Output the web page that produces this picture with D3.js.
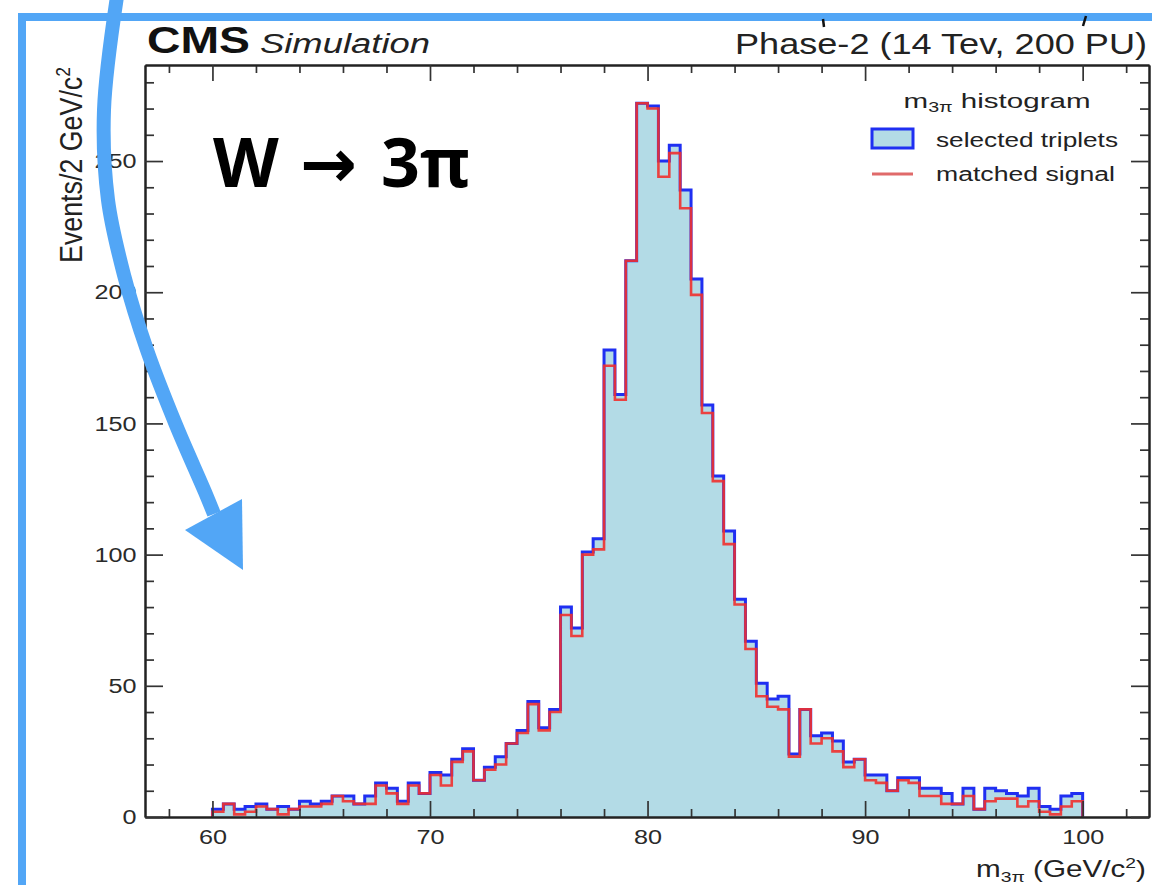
<!DOCTYPE html>
<html>
<head>
<meta charset="utf-8">
<script src="https://cdn.jsdelivr.net/npm/d3@7"></script>
<style>
  body { margin: 0; background: #fff; }
  svg { display: block; }
</style>
</head>
<body>
<div id="chart"></div>
<script>
`use strict`;

// m(3pi) histogram, 0.5 GeV bins from 60 to 100
const binLow = 60;
const binWidth = 0.5;

const selected = [
  3, 5, 3, 4, 5, 3, 4, 3, 6, 5,
  6, 8, 8, 5, 8, 13, 11, 6, 13, 9,
  17, 16, 22, 26, 14, 19, 23, 28, 33, 44,
  34, 41, 80, 72, 101, 106, 178, 161, 212, 272,
  271, 250, 256, 239, 205, 157, 130, 109, 83, 67,
  51, 45, 46, 24, 41, 31, 32, 29, 21, 22,
  16, 16, 10, 15, 15, 11, 11, 9, 5, 11,
  3, 11, 10, 9, 8, 11, 4, 3, 8, 9
];

const matched = [
  2, 5, 1, 2, 4, 3, 1, 3, 4, 4,
  5, 8, 6, 5, 5, 12, 9, 5, 12, 9,
  16, 12, 21, 25, 14, 18, 20, 28, 32, 43,
  33, 40, 77, 69, 100, 102, 172, 159, 212, 272,
  270, 244, 253, 232, 199, 154, 128, 104, 81, 64,
  46, 42, 41, 23, 41, 28, 30, 25, 19, 22,
  14, 13, 10, 14, 13, 8, 8, 5, 5, 8,
  3, 6, 7, 7, 4, 6, 2, 1, 4, 6
];

const xMajor = [60, 70, 80, 90, 100];
const xMinor = [58, 62, 64, 66, 68, 72, 74, 76, 78, 82, 84, 86, 88, 92, 94, 96, 98, 102];
const yMajor = [0, 50, 100, 150, 200, 250];
const yMinor = [10, 20, 30, 40, 60, 70, 80, 90, 110, 120, 130, 140, 160, 170, 180, 190, 210, 220, 230, 240, 260, 270, 280];

// slide annotation (the curved arrow pasted over the plot)
const arrowPts = [[118, -10], [104, 110], [108, 200], [124, 275], [147, 350], [176, 425], [205, 492], [214, 514]];
const arrowHead = [[185, 530], [242, 499], [243, 570]];

(function () {

  const W = 1152, H = 885;
  const SX = 1.2; // the slide image is stretched sideways
  const font = `'Liberation Sans', Arial, Helvetica, sans-serif`;
  const slideBlue = `#52a6f6`;

  const svg = d3.select(`#chart`).append(`svg`)
    .attr(`width`, W)
    .attr(`height`, H)
    .style(`background`, `#fff`);

  const x = d3.scaleLinear().domain([56.9, 103.05]).range([145, 1149]);
  const y = d3.scaleLinear().domain([0, 286.6]).range([817, 65]);

  let steps = counts => {
    let pts = counts.map((v, i) => [binLow + i * binWidth, v]);
    pts.push([binLow + counts.length * binWidth, counts[counts.length - 1]]);
    return pts;
  };

  let outline = counts => {
    let pts = steps(counts);
    return [[binLow, 0]].concat(pts, [[pts[pts.length - 1][0], 0]]);
  };

  // fill of the selected triplets
  svg.append(`path`)
    .datum(steps(selected))
    .attr(`d`, d3.area().curve(d3.curveStepAfter)
      .x(d => x(d[0])).y0(y(0)).y1(d => y(d[1])))
    .attr(`fill`, `#b3dbe6`);

  let line = d3.line().curve(d3.curveStepAfter).x(d => x(d[0])).y(d => y(d[1]));

  svg.append(`path`)
    .datum(outline(selected))
    .attr(`d`, line)
    .attr(`fill`, `none`)
    .attr(`stroke`, `#1f2ff2`)
    .attr(`stroke-width`, 3);

  svg.append(`path`)
    .datum(outline(matched))
    .attr(`d`, line)
    .attr(`fill`, `none`)
    .attr(`stroke`, `#f0302e`)
    .attr(`stroke-opacity`, .9)
    .attr(`stroke-width`, 2.6);

  // frame axes, ticks inside
  let axis = (gen, tx, ty, labels) => {
    let g = svg.append(`g`)
      .attr(`transform`, `translate(${tx},${ty})`)
      .call(gen);
    g.select(`.domain`).attr(`stroke`, `#222`).attr(`stroke-width`, 2);
    g.selectAll(`.tick line`).attr(`stroke`, `#333`).attr(`stroke-width`, 1.7);
    if (labels) {
      g.selectAll(`.tick text`)
        .attr(`font-family`, font)
        .attr(`font-size`, 21)
        .attr(`fill`, `#2a2a2a`)
        .attr(`transform`, `scale(${SX},1)`);
    }
    return g;
  };

  axis(d3.axisBottom(x).tickValues(xMinor).tickSize(-8).tickSizeOuter(0).tickFormat(``), 0, y(0));
  axis(d3.axisBottom(x).tickValues(xMajor).tickSize(-16).tickSizeOuter(0).tickPadding(12).tickFormat(d3.format(`d`)), 0, y(0), true);
  axis(d3.axisTop(x).tickValues(xMinor).tickSize(-8).tickSizeOuter(0).tickFormat(``), 0, 65);
  axis(d3.axisTop(x).tickValues(xMajor).tickSize(-16).tickSizeOuter(0).tickFormat(``), 0, 65);
  axis(d3.axisLeft(y).tickValues(yMinor).tickSize(-9).tickSizeOuter(0).tickFormat(``), 145, 0);
  axis(d3.axisLeft(y).tickValues(yMajor).tickSize(-18).tickSizeOuter(0).tickPadding(7).tickFormat(d3.format(`d`)), 145, 0, true);
  axis(d3.axisRight(y).tickValues(yMinor).tickSize(-9).tickSizeOuter(0).tickFormat(``), 1149, 0);
  axis(d3.axisRight(y).tickValues(yMajor).tickSize(-18).tickSizeOuter(0).tickFormat(``), 1149, 0);

  // text helper: stretched sideways like the source picture
  let txt = (px, py, anchor, size, width, extra) => {
    let t = svg.append(`text`)
      .attr(`transform`, `translate(${px},${py}) scale(${SX},1)` + (extra || ``))
      .attr(`text-anchor`, anchor)
      .attr(`font-family`, font)
      .attr(`font-size`, size)
      .attr(`fill`, `#222`);
    if (width) t.attr(`textLength`, width).attr(`lengthAdjust`, `spacingAndGlyphs`);
    return t;
  };

  txt(147, 53, `start`, 37, 103 / SX).attr(`font-weight`, `bold`).attr(`fill`, `#111`).text(`CMS`);
  txt(260, 53, `start`, 28, 170 / SX).attr(`font-style`, `italic`).text(`Simulation`);
  txt(1147, 54, `end`, 30, 412 / SX).text(`Phase-2 (14 Tev, 200 PU)`);

  // axis titles
  let yt = txt(82, 67, `end`, 26, 196, ` rotate(-90)`);
  yt.append(`tspan`).text(`Events/2 GeV/c`);
  yt.append(`tspan`).attr(`font-size`, 17).attr(`dy`, -10).text(`2`);

  let xt = txt(1146, 877, `end`, 23, 170 / SX);
  xt.append(`tspan`).text(`m`);
  xt.append(`tspan`).attr(`font-size`, 15).attr(`dy`, 5).text(`3π`);
  xt.append(`tspan`).attr(`dy`, -5).text(` (GeV/c`);
  xt.append(`tspan`).attr(`font-size`, 15).attr(`dy`, -9).text(`2`);
  xt.append(`tspan`).attr(`dy`, 9).text(`)`);

  // legend
  svg.append(`rect`)
    .attr(`x`, 872).attr(`y`, 129).attr(`width`, 41).attr(`height`, 19)
    .attr(`fill`, `#b3dbe6`).attr(`stroke`, `#1f2ff2`).attr(`stroke-width`, 3);
  svg.append(`line`)
    .attr(`x1`, 872).attr(`x2`, 913).attr(`y1`, 174).attr(`y2`, 174)
    .attr(`stroke`, `#e06a6a`).attr(`stroke-width`, 3);

  let lt = txt(997, 108, `middle`, 21, 187 / SX);
  lt.append(`tspan`).text(`m`);
  lt.append(`tspan`).attr(`font-size`, 14).attr(`dy`, 4).text(`3π`);
  lt.append(`tspan`).attr(`dy`, -4).text(` histogram`);
  txt(936, 147, `start`, 21, 182 / SX).text(`selected triplets`);
  txt(936, 181, `start`, 21, 179 / SX).text(`matched signal`);

  // slide overlay: frame, label, arrow
  svg.append(`rect`)
    .attr(`x`, 22).attr(`y`, 17).attr(`width`, 1300).attr(`height`, 1000)
    .attr(`fill`, `none`).attr(`stroke`, slideBlue).attr(`stroke-width`, 8);

  svg.append(`path`).attr(`d`, `M823,19 L824,27 M1086,16 L1083,26`)
    .attr(`stroke`, `#111`).attr(`stroke-width`, 2.5);

  let wt = svg.append(`text`)
    .attr(`y`, 187)
    .attr(`font-family`, `'Open Sans', 'DejaVu Sans', sans-serif`)
    .attr(`font-weight`, 700)
    .attr(`font-size`, 68)
    .attr(`fill`, `#000`);
  wt.append(`tspan`).attr(`x`, 213).text(`W`);
  wt.append(`tspan`).attr(`x`, 300).attr(`font-family`, `'DejaVu Sans', sans-serif`).text(`→`);
  wt.append(`tspan`).attr(`x`, 381).text(`3π`);

  svg.append(`path`)
    .datum(arrowPts)
    .attr(`d`, d3.line().curve(d3.curveCatmullRom))
    .attr(`fill`, `none`)
    .attr(`stroke`, slideBlue)
    .attr(`stroke-width`, 14);

  svg.append(`path`)
    .datum(arrowHead)
    .attr(`d`, d => `M` + d.join(`L`) + `Z`)
    .attr(`fill`, slideBlue);

})();
</script>
</body>
</html>
